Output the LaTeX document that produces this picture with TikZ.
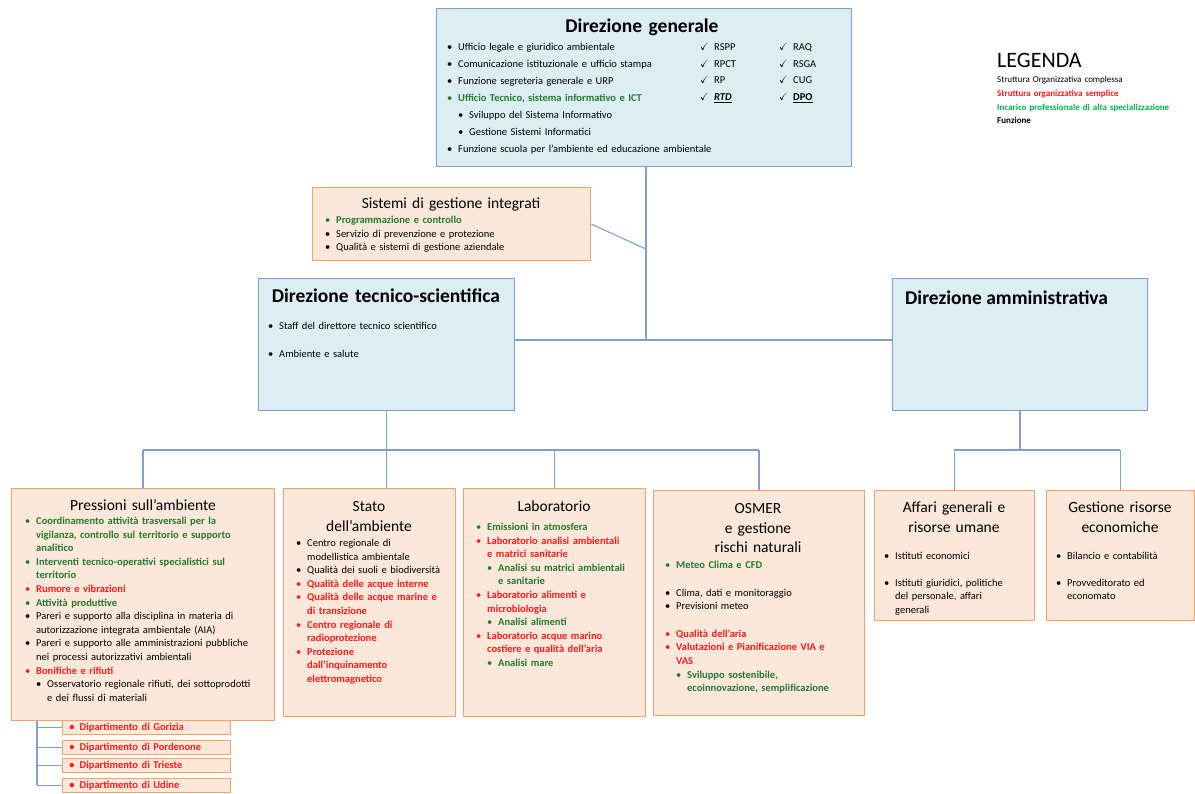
\documentclass[tikz,border=0pt]{standalone}
\usepackage{fontspec}
\setmainfont{Carlito}
\usepackage{amssymb}
\usetikzlibrary{positioning}

\definecolor{azzurro}{HTML}{DCEDF3}
\definecolor{bordoBlu}{HTML}{7F9FD3}
\definecolor{pesca}{HTML}{FCE8DA}
\definecolor{bordoArancio}{HTML}{F5A26A}
\definecolor{verde}{HTML}{217A2E}
\definecolor{verdeChiaro}{HTML}{00B050}
\definecolor{rosso}{HTML}{FF1A1A}

% voci di elenco
\newcommand{\voce}[2][black]{\noindent\hangindent=11pt\hangafter=1{\color{#1}\makebox[11pt][l]{\textbullet}#2}\par}
\newcommand{\sotto}[2][black]{\noindent\hangindent=22pt\hangafter=1\hspace*{11pt}{\color{#1}\makebox[11pt][l]{\textbullet}#2}\par}
\newcommand{\voceV}[1]{\voce[verde]{\bfseries #1}}
\newcommand{\voceR}[1]{\voce[rosso]{\bfseries #1}}
\newcommand{\sottoV}[1]{\sotto[verde]{\bfseries #1}}
\newcommand{\spunta}[1]{\noindent\makebox[14pt][l]{$\checkmark$}#1\par}

\begin{document}
\begin{tikzpicture}[x=1pt, y=-1pt,
    box/.style={draw, line width=0.9pt, anchor=north west, inner sep=0pt},
    blu/.style={box, draw=bordoBlu, fill=azzurro},
    ara/.style={box, draw=bordoArancio, fill=pesca},
    filo/.style={draw=bordoBlu, line width=1.1pt},
    elenco/.style={anchor=base west, inner sep=0pt, align=left, font=\fontsize{10.5}{13.6}\selectfont},
    titolo/.style={anchor=base, inner sep=0pt, align=center, text width=250pt, font=\fontsize{15.5}{19.5}\selectfont},
    dip/.style={ara, minimum width=168pt, minimum height=14pt, text width=154pt, align=left,
      inner xsep=7pt, font=\fontsize{10.5}{11}\selectfont\bfseries\color{rosso}}]
  \useasboundingbox (0,0) rectangle (1195,794);

  % riquadri
  \node[blu, minimum width=415pt, minimum height=158pt] (dg) at (436,8) {};
  \node[ara, minimum width=278pt, minimum height=73pt] (sg) at (312,187) {};
  \node[blu, minimum width=256pt, minimum height=132pt] (dts) at (258,278) {};
  \node[blu, minimum width=255pt, minimum height=132pt] (da) at (892,278) {};
  \node[ara, minimum width=263pt, minimum height=232pt] (pa) at (11,488) {};
  \node[ara, minimum width=172pt, minimum height=228pt] (sa) at (283,488) {};
  \node[ara, minimum width=182pt, minimum height=228pt] (lab) at (463,488) {};
  \node[ara, minimum width=211pt, minimum height=225pt] (os) at (653,490) {};
  \node[ara, minimum width=160pt, minimum height=130pt] (ag) at (874,490) {};
  \node[ara, minimum width=148pt, minimum height=130pt] (gre) at (1046,490) {};
  \node[dip] (dGo) at (62,720) {\textbullet\hspace{5pt}Dipartimento di Gorizia};
  \node[dip] (dPo) at (62,740) {\textbullet\hspace{5pt}Dipartimento di Pordenone};
  \node[dip] (dTr) at (62,758) {\textbullet\hspace{5pt}Dipartimento di Trieste};
  \node[dip] (dUd) at (62,778) {\textbullet\hspace{5pt}Dipartimento di Udine};

  % collegamenti
  \coordinate (nodoA) at (646,340);
  \coordinate (nodoS) at (646,249);
  \coordinate (busL) at (0,450);
  \coordinate (asse) at (37,0);
  \draw[filo] (dg.south -| nodoA) -- (nodoA);
  \draw[filo] (sg.east) -- (nodoS);
  \draw[filo] (dts.east |- nodoA) -- (da.west |- nodoA);
  \draw[filo] (dts.south) -- (dts.south |- busL);
  \draw[filo] (pa.north |- busL) -- (os.north |- busL);
  \draw[filo] (dts.south |- busL) -- (dts.south |- sa.north);
  \foreach \b in {pa,lab,os}
    \draw[filo] (\b.north |- busL) -- (\b.north);
  \draw[filo] (da.south) -- (da.south |- busL);
  \draw[filo] (ag.north |- busL) -- (gre.north |- busL);
  \foreach \b in {ag,gre}
    \draw[filo] (\b.north |- busL) -- (\b.north);
  \draw[filo] (asse |- pa.south) -- (asse |- dUd.west);
  \foreach \d in {dGo,dPo,dTr,dUd}
    \draw[filo] (asse |- \d.west) -- (\d.west);

  % Direzione generale
  \node[titolo, font=\fontsize{19.5}{19.5}\selectfont\bfseries] (dgT) at (642,33) {Direzione generale};
  \node[elenco, text width=300pt, font=\fontsize{10.5}{17}\selectfont] (dgL) at (447,50.5) {%
    \voce{Ufficio legale e giuridico ambientale}
    \voce{Comunicazione istituzionale  e ufficio stampa}
    \voce{Funzione segreteria generale e URP}
    \voceV{Ufficio Tecnico, sistema informativo e ICT}
    \sotto{Sviluppo del Sistema Informativo}
    \sotto{Gestione Sistemi Informatici}
    \voce{Funzione scuola per l'ambiente ed educazione ambientale}};
  \node[elenco, text width=70pt, font=\fontsize{10.5}{16.7}\selectfont] (dgC1) at (700,50.5) {%
    \spunta{RSPP}\spunta{RPCT}\spunta{RP}\spunta{\underline{\textbf{\textit{RTD}}}}};
  \node[elenco, text width=70pt, font=\fontsize{10.5}{16.7}\selectfont] (dgC2) at (779,50.5) {%
    \spunta{RAQ}\spunta{RSGA}\spunta{CUG}\spunta{\underline{\textbf{DPO}}}};

  % legenda
  \node[anchor=base west, inner sep=0pt, font=\fontsize{22}{22}\selectfont] (leg) at (997,67.5) {LEGENDA};
  \node[elenco, text width=260pt, font=\fontsize{9}{13.6}\selectfont] (legL) at (997,83) {%
    Struttura Organizzativa complessa\par
    {\color{rosso}\bfseries Struttura organizzativa semplice}\par
    {\color{verdeChiaro}\bfseries Incarico professionale di alta specializzazione}\par
    \textbf{Funzione}};

  % Sistemi di gestione integrati
  \node[titolo] (sgT) at (451,208.5) {Sistemi di gestione integrati};
  \node[elenco, text width=260pt] (sgL) at (325,223.5) {%
    \voceV{Programmazione e controllo}
    \voce{Servizio di prevenzione e protezione}
    \voce{Qualità e sistemi di gestione aziendale}};

  % Direzioni
  \node[titolo, font=\fontsize{19.5}{19.5}\selectfont\bfseries, text width=280pt] (dtsT) at (386,302.5) {Direzione tecnico-scientifica};
  \node[elenco, text width=240pt, font=\fontsize{10.5}{28}\selectfont] (dtsL) at (268,329.5) {%
    \voce{Staff del direttore tecnico scientifico}
    \voce{Ambiente e salute}};
  \node[anchor=base west, inner sep=0pt, font=\fontsize{19.5}{19.5}\selectfont\bfseries] (daT) at (905,304.5) {Direzione amministrativa};

  % Pressioni sull'ambiente
  \node[titolo] (paT) at (143,510.5) {Pressioni sull'ambiente};
  \node[elenco, text width=250pt] (paL) at (25,524.5) {%
    \voceV{Coordinamento attività trasversali per  la\newline vigilanza, controllo sul territorio e supporto\newline analitico}
    \voceV{Interventi tecnico-operativi specialistici sul\newline territorio}
    \voceR{Rumore e vibrazioni}
    \voceV{Attività produttive}
    \voce{Pareri e supporto alla disciplina in materia di\newline autorizzazione integrata ambientale (AIA)}
    \voce{Pareri e supporto alle amministrazioni pubbliche\newline nei processi autorizzativi ambientali}
    \voceR{Bonifiche e rifiuti}
    \sotto{Osservatorio regionale rifiuti, dei sottoprodotti\newline e dei flussi di materiali}};

  % Stato dell'ambiente
  \node[titolo] (saT) at (369,511.5) {Stato\\dell'ambiente};
  \node[elenco, text width=165pt] (saL) at (296,546.5) {%
    \voce{Centro regionale di\newline modellistica ambientale}
    \voce{Qualità dei suoli e biodiversità}
    \voceR{Qualità delle acque interne}
    \voceR{Qualità delle acque marine e\newline di transizione}
    \voceR{Centro regionale di\newline radioprotezione}
    \voceR{Protezione\newline dall'inquinamento\newline elettromagnetico}};

  % Laboratorio
  \node[titolo] (labT) at (554,511.5) {Laboratorio};
  \node[elenco, text width=170pt] (labL) at (476,530.5) {%
    \voceV{Emissioni in atmosfera}
    \voceR{Laboratorio  analisi ambientali\newline e matrici sanitarie}
    \sottoV{Analisi su matrici ambientali\newline e sanitarie}
    \voceR{Laboratorio  alimenti e\newline microbiologia}
    \sottoV{Analisi alimenti}
    \voceR{Laboratorio  acque marino\newline costiere e qualità dell'aria}
    \sottoV{Analisi mare}};

  % OSMER
  \node[titolo] (osT) at (758,513.5) {OSMER\\e gestione\\rischi naturali};
  \node[elenco, text width=200pt] (osL) at (665,568.5) {%
    \voceV{Meteo Clima e CFD}\vspace{14pt}
    \voce{Clima, dati e monitoraggio}
    \voce{Previsioni meteo}\vspace{14pt}
    \voceR{Qualità dell'aria}
    \voceR{Valutazioni  e Pianificazione VIA e\newline VAS}
    \sottoV{Sviluppo sostenibile,\newline ecoinnovazione, semplificazione}};

  % Direzione amministrativa: strutture
  \node[titolo] (agT) at (954,512.5) {Affari generali e\\risorse umane};
  \node[elenco, text width=150pt] (agL) at (884,559.5) {%
    \voce{Istituti economici}\vspace{13pt}
    \voce{Istituti giuridici, politiche\newline del personale, affari\newline generali}};
  \node[titolo] (greT) at (1120,512.5) {Gestione risorse\\economiche};
  \node[elenco, text width=140pt] (greL) at (1056,559.5) {%
    \voce{Bilancio e contabilità}\vspace{13pt}
    \voce{Provveditorato ed\newline economato}};
\end{tikzpicture}
\end{document}
